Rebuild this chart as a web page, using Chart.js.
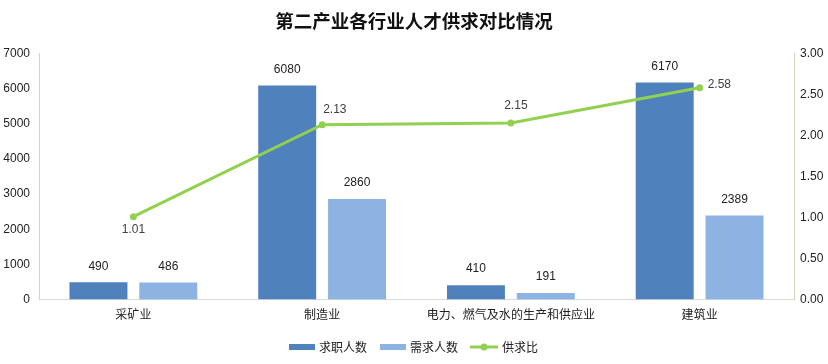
<!DOCTYPE html>
<html>
<head>
<meta charset="utf-8">
<script src="https://cdn.jsdelivr.net/npm/chart.js@4.4.0/dist/chart.umd.min.js"></script>
<style>
  html, body { margin: 0; padding: 0; background: #fff; }
  #wrap { width: 828px; height: 364px; }
</style>
</head>
<body>
<div id="wrap"><canvas id="myChart" width="828" height="364"></canvas></div>
<script>
// data
var categories = ["采矿业", "制造业", "电力、燃气及水的生产和供应业", "建筑业"];
var seekers = [490, 6080, 410, 6170];
var demand = [486, 2860, 191, 2389];
var ratio = [1.01, 2.13, 2.15, 2.58];
var leftTicks = [0, 1000, 2000, 3000, 4000, 5000, 6000, 7000];
var rightTicks = [0, 0.5, 1, 1.5, 2, 2.5, 3];

var FONT = "'Noto Sans CJK SC', 'DejaVu Sans', sans-serif";
var NUMFONT = "'Liberation Sans', 'DejaVu Sans', sans-serif";

// where each ratio label sits relative to its point
var ratioLabelPos = [
  { dx: 0, dy: 13, align: "center" },
  { dx: 1, dy: -15, align: "left" },
  { dx: 5, dy: -17, align: "center" },
  { dx: 8, dy: -3, align: "left" },
];

var labelPlugin = {
  id: "labels",
  afterDatasetsDraw: function (chart) {
    var ctx = chart.ctx;
    ctx.save();
    ctx.font = "12px " + NUMFONT;
    ctx.fillStyle = "#222";
    ctx.textBaseline = "middle";
    [0, 1].forEach(function (di) {
      var meta = chart.getDatasetMeta(di);
      meta.data.forEach(function (bar, i) {
        ctx.textAlign = "center";
        ctx.fillText(String(chart.data.datasets[di].data[i]), bar.x, bar.y - 16);
      });
    });
    var lm = chart.getDatasetMeta(2);
    ctx.fillStyle = "#404040";
    lm.data.forEach(function (pt, i) {
      var p = ratioLabelPos[i];
      ctx.textAlign = p.align;
      ctx.fillText(ratio[i].toFixed(2), pt.x + p.dx, pt.y + p.dy);
    });
    ctx.restore();
  },
};

var legendPlugin = {
  id: "customLegend",
  afterDraw: function (chart) {
    var ctx = chart.ctx;
    ctx.save();
    ctx.font = "12px " + FONT;
    ctx.textBaseline = "middle";
    ctx.textAlign = "left";
    var y = 347;
    var items = chart.data.datasets;
    var x = 289;
    ctx.fillStyle = items[0].backgroundColor;
    ctx.fillRect(x, y - 3, 26, 6);
    ctx.fillStyle = "#222";
    ctx.fillText(items[0].label, x + 30, y);
    x = 380;
    ctx.fillStyle = items[1].backgroundColor;
    ctx.fillRect(x, y - 3, 26, 6);
    ctx.fillStyle = "#222";
    ctx.fillText(items[1].label, x + 30, y);
    x = 470;
    ctx.strokeStyle = items[2].borderColor;
    ctx.lineWidth = 3;
    ctx.beginPath();
    ctx.moveTo(x, y);
    ctx.lineTo(x + 28, y);
    ctx.stroke();
    ctx.fillStyle = items[2].borderColor;
    ctx.beginPath();
    ctx.arc(x + 14, y, 3.5, 0, Math.PI * 2);
    ctx.fill();
    ctx.fillStyle = "#222";
    ctx.fillText(items[2].label, x + 32, y);
    ctx.restore();
  },
};

var ctx = document.getElementById("myChart").getContext("2d");
var chart = new Chart(ctx, {
  type: "bar",
  data: {
    labels: categories,
    datasets: [
      {
        label: "求职人数",
        data: seekers,
        backgroundColor: "#4F81BD",
        yAxisID: "y",
        categoryPercentage: 0.74,
        barPercentage: 0.83,
        order: 2,
      },
      {
        label: "需求人数",
        data: demand,
        backgroundColor: "#8DB3E2",
        yAxisID: "y",
        categoryPercentage: 0.74,
        barPercentage: 0.83,
        order: 2,
      },
      {
        type: "line",
        label: "供求比",
        data: ratio,
        borderColor: "#92D050",
        backgroundColor: "#92D050",
        borderWidth: 3,
        pointRadius: 3.5,
        pointBackgroundColor: "#92D050",
        pointBorderWidth: 0,
        yAxisID: "y1",
        tension: 0,
        order: 1,
      },
    ],
  },
  options: {
    responsive: false,
    animation: false,
    layout: { padding: { top: 0, bottom: 34, left: 0, right: 0 } },
    plugins: {
      legend: { display: false },
      tooltip: { enabled: false },
      title: {
        display: true,
        text: "第二产业各行业人才供求对比情况",
        font: { family: FONT, size: 18.5, weight: "bold" },
        color: "#111",
        padding: { top: 10, bottom: 21 },
      },
    },
    scales: {
      x: {
        grid: { display: false, drawTicks: false },
        border: { color: "#d9d9d9", width: 1 },
        ticks: {
          font: { family: FONT, size: 12 },
          color: "#222",
          padding: 8,
          maxRotation: 0,
          autoSkip: false,
        },
      },
      y: {
        position: "left",
        min: 0,
        max: 7000,
        afterBuildTicks: function (axis) {
          axis.ticks = leftTicks.map(function (v) { return { value: v }; });
        },
        afterFit: function (axis) { axis.width = 39; },
        grid: { display: false, drawTicks: false },
        border: { color: "#d8d4c0", width: 1 },
        ticks: {
          font: { family: NUMFONT, size: 12 },
          color: "#222",
          padding: 9,
          callback: function (v) { return String(v); },
        },
      },
      y1: {
        position: "right",
        min: 0,
        max: 3,
        afterBuildTicks: function (axis) {
          axis.ticks = rightTicks.map(function (v) { return { value: v }; });
        },
        afterFit: function (axis) { axis.width = 34; },
        grid: { display: false, drawTicks: false },
        border: { color: "#d8d4c0", width: 1 },
        ticks: {
          font: { family: NUMFONT, size: 12 },
          color: "#222",
          padding: 6,
          callback: function (v) { return Number(v).toFixed(2); },
        },
      },
    },
  },
  plugins: [labelPlugin, legendPlugin],
});
</script>
</body>
</html>
